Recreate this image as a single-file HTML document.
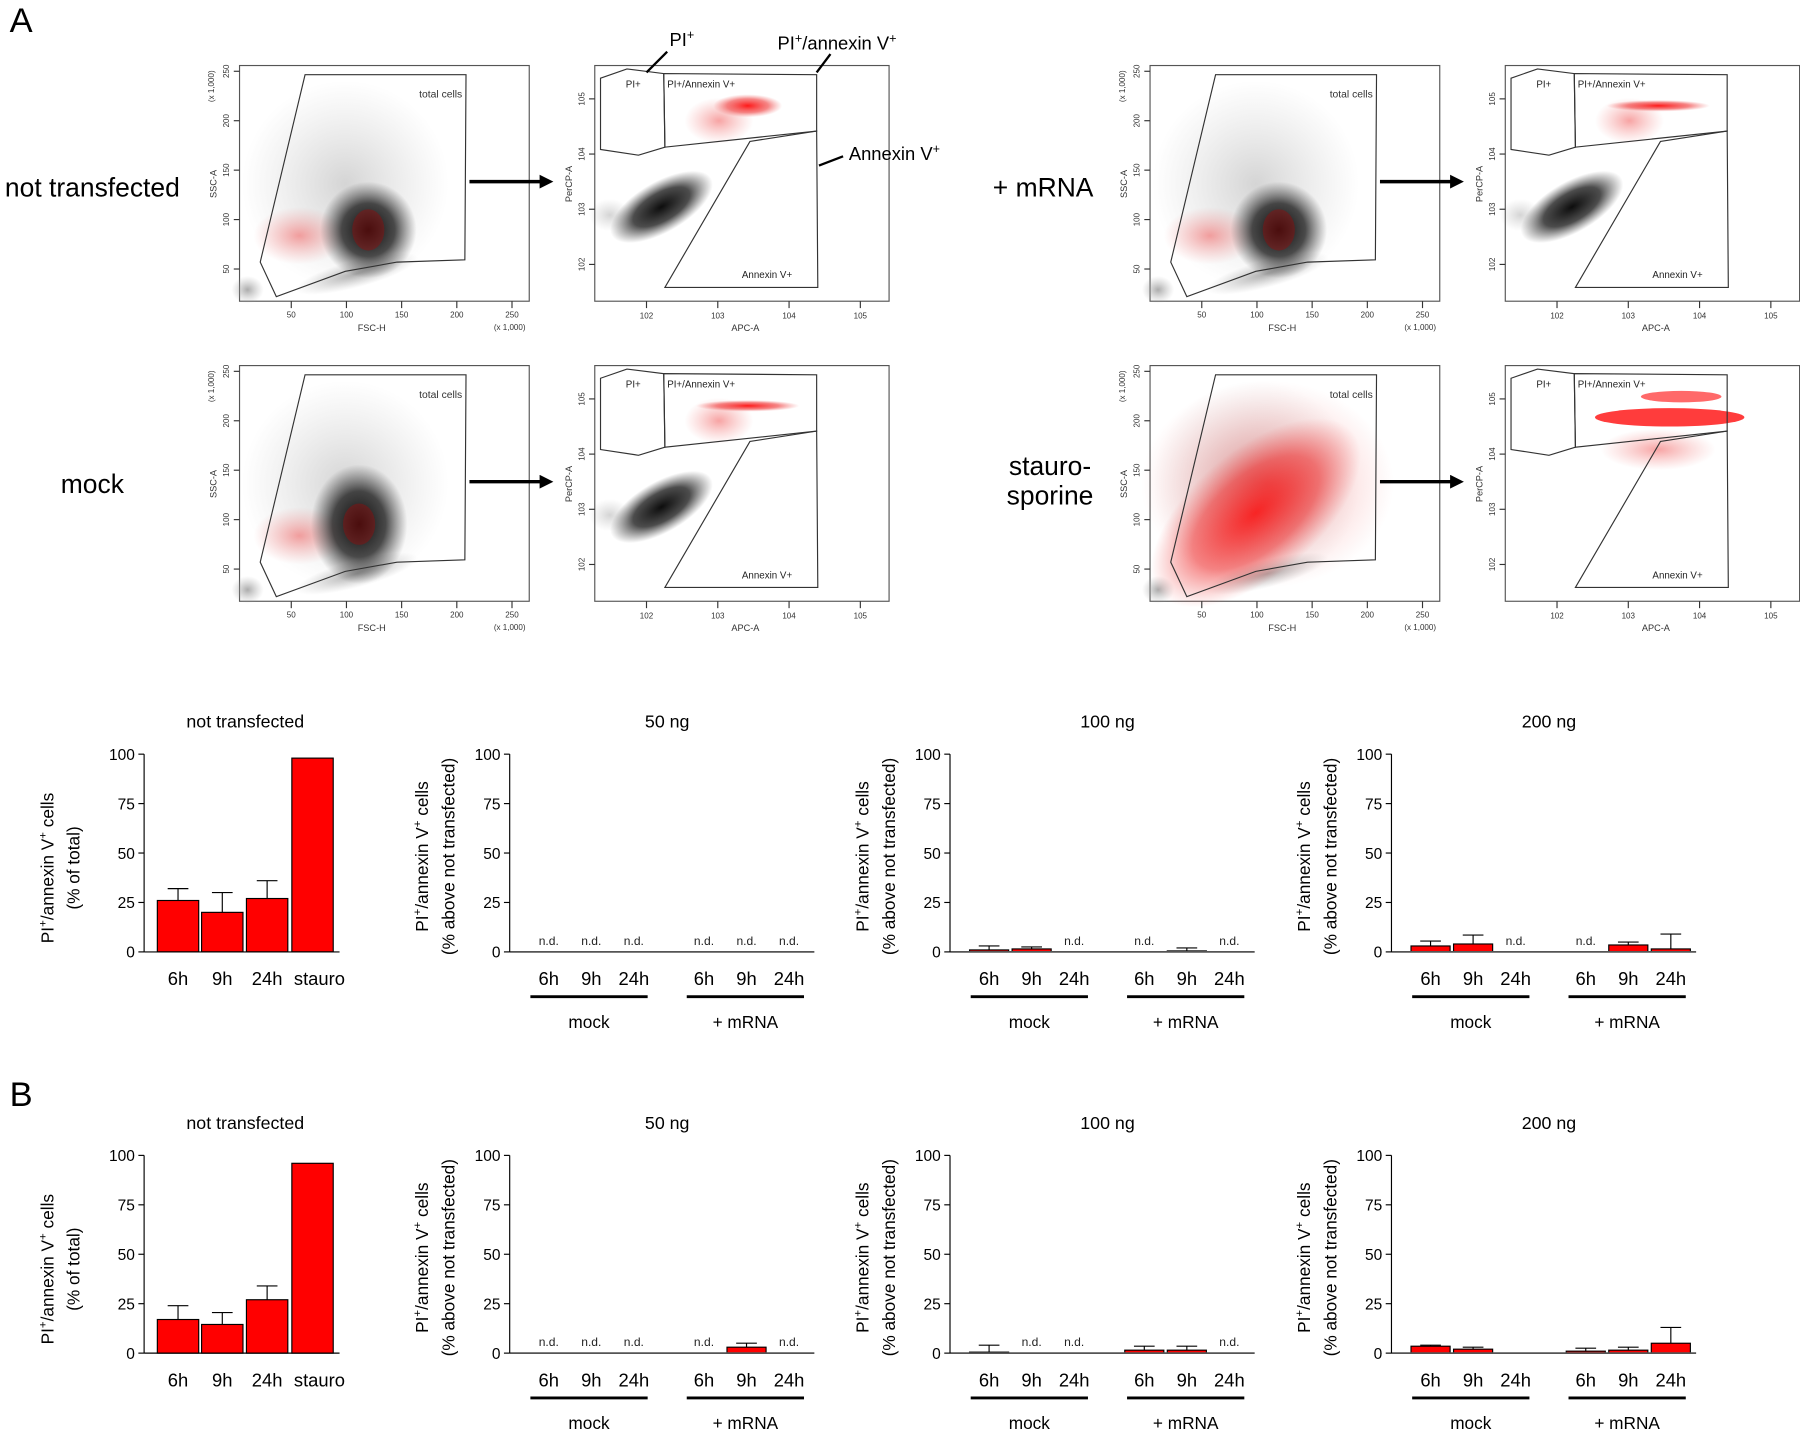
<!DOCTYPE html>
<html><head><meta charset="utf-8"><style>
html,body{margin:0;padding:0;background:#fff;}
svg{display:block;font-family:"Liberation Sans",Arial,sans-serif;}
</style></head><body>
<svg id="fig" width="1800" height="1429" viewBox="0 0 1565 1243" xmlns="http://www.w3.org/2000/svg">
<defs>
<radialGradient id="gBlack"><stop offset="0" stop-color="#000" stop-opacity="0.95"/><stop offset="0.55" stop-color="#111" stop-opacity="0.75"/><stop offset="1" stop-color="#333" stop-opacity="0"/></radialGradient>
<radialGradient id="gRed"><stop offset="0" stop-color="#f00" stop-opacity="0.9"/><stop offset="0.6" stop-color="#e22" stop-opacity="0.55"/><stop offset="1" stop-color="#e55" stop-opacity="0"/></radialGradient>
<radialGradient id="gRedL"><stop offset="0" stop-color="#e33" stop-opacity="0.45"/><stop offset="1" stop-color="#e66" stop-opacity="0"/></radialGradient>
<radialGradient id="gGrey"><stop offset="0" stop-color="#888" stop-opacity="0.7"/><stop offset="1" stop-color="#aaa" stop-opacity="0"/></radialGradient>
<radialGradient id="gSpk"><stop offset="0" stop-color="#555" stop-opacity="0.25"/><stop offset="1" stop-color="#777" stop-opacity="0"/></radialGradient>
<marker id="arr" markerWidth="4" markerHeight="4" refX="2" refY="2" orient="auto"><path d="M0,0 L4,2 L0,4 z" fill="#000"/></marker>
</defs>
<g id="flow"></g>
<g id="bars"></g>
</svg>
<script>
// ---------- Bar chart data ----------
const yTicks = [0, 25, 50, 75, 100];
const ntCategories = ["6h", "9h", "24h", "stauro"];
const grpCategories = ["6h", "9h", "24h", "6h", "9h", "24h"];
const groupLabels = ["mock", "+ mRNA"];
const chartTitles = ["not transfected", "50 ng", "100 ng", "200 ng"];
// Row A
const A_nt_values = [26, 20, 27, 98];
const A_nt_err = [32, 30, 36, null];
const A_50_values = [null, null, null, null, null, null];
const A_50_err = [null, null, null, null, null, null];
const A_100_values = [1, 1.5, null, null, 0.5, null];
const A_100_err = [3, 2.5, null, null, 2, null];
const A_200_values = [3, 4, null, null, 3.5, 1.5];
const A_200_err = [5.5, 8.5, null, null, 5, 9];
// Row B
const B_nt_values = [17, 14.5, 27, 96];
const B_nt_err = [24, 20.5, 34, null];
const B_50_values = [null, null, null, null, 3, null];
const B_50_err = [null, null, null, null, 5, null];
const B_100_values = [0.5, null, null, 1.5, 1.5, null];
const B_100_err = [4, null, null, 3.5, 3.5, null];
const B_200_values = [3.5, 2, 0, 1, 1.5, 5];
const B_200_err = [4, 3, null, 2.5, 3, 13];

const NS = "http://www.w3.org/2000/svg";
function mk(tag, attrs, parent, text) {
  const e = document.createElementNS(NS, tag);
  for (const k in attrs) e.setAttribute(k, attrs[k]);
  if (text !== undefined) e.textContent = text;
  parent.appendChild(e);
  return e;
}
const bars = document.getElementById('bars');
const flow = document.getElementById('flow');

let t = mk('text', {x: 8, y: 28, 'font-size': 30}, flow, 'A');


t = mk('text', {x: 8, y: 962, 'font-size': 30}, bars, 'B');



function ytitle(g, x, cy, line2) {
  const tt = mk('text', {transform: `translate(${x},${cy}) rotate(-90)`, 'text-anchor': 'middle', 'font-size': 15}, g);
  
  
  tt.innerHTML = 'PI<tspan dy="-6" font-size="10">+</tspan><tspan dy="6">/annexin V</tspan><tspan dy="-6" font-size="10">+</tspan><tspan dy="6"> cells</tspan>';
  const t2 = mk('text', {transform: `translate(${x + 23},${cy}) rotate(-90)`, 'text-anchor': 'middle', 'font-size': 15}, g, line2);
  
  
}

function yAxis(g, ax, y0, scale) {
  mk('line', {x1: ax, y1: y0, x2: ax, y2: scale(100), stroke: '#000', 'stroke-width': 1}, g);
  yTicks.forEach(v => {
    mk('line', {x1: ax - 5, y1: scale(v), x2: ax, y2: scale(v), stroke: '#000'}, g);
    const tl = mk('text', {x: ax - 8, y: scale(v) + 5, 'text-anchor': 'end', 'font-size': 13.5}, g, String(v));
    
    
  });
}

function drawBar(g, cx, w, v, err, scale, y0) {
  if (v === null) return;
  const r = mk('rect', {x: cx - w / 2, y: scale(v), width: w, height: y0 - scale(v), fill: '#ff0000', stroke: '#000', 'stroke-width': 1}, g);
  
  
  if (err !== null && err !== undefined) {
    mk('line', {x1: cx, y1: scale(v), x2: cx, y2: scale(err), stroke: '#000'}, g);
    mk('line', {x1: cx - 9, y1: scale(err), x2: cx + 9, y2: scale(err), stroke: '#000'}, g);
  }
}

function ntChart(dy, values, errs) {
  const g = mk('g', {}, bars);
  
  
  const y0 = 828 + dy, ax = 125;
  const scale = v => y0 - v * 1.72;
  const centers = [154.5, 193, 232, 271.5];
  const tt = mk('text', {x: 213, y: 633 + dy, 'text-anchor': 'middle', 'font-size': 15.5}, g, chartTitles[0]);
  
  
  ytitle(g, 46, 755 + dy, '(% of total)');
  values.forEach((v, i) => drawBar(g, centers[i], 36, v, errs[i], scale, y0));
  mk('line', {x1: ax, y1: y0, x2: 295, y2: y0, stroke: '#000'}, g);
  yAxis(g, ax, y0, scale);
  ntCategories.forEach((c, i) => {
    const l = mk('text', {x: centers[i] + (i === 3 ? 6 : 0), y: 857 + dy, 'text-anchor': 'middle', 'font-size': 16}, g, c);
    
    
  });
}

function grpChart(dx, dy, title, values, errs) {
  const g = mk('g', {}, bars);
  
  
  const y0 = 828 + dy, ax = 443 + dx;
  const scale = v => y0 - v * 1.72;
  const centers = [477, 514, 551, 612, 649, 686].map(c => c + dx);
  const tt = mk('text', {x: 580 + dx, y: 633 + dy, 'text-anchor': 'middle', 'font-size': 15.5}, g, title);
  
  
  ytitle(g, 372 + dx, 745 + dy, '(% above not transfected)');
  values.forEach((v, i) => {
    if (v === null) {
      const nd = mk('text', {x: centers[i], y: 822 + dy, 'text-anchor': 'middle', 'font-size': 10.5, fill: '#222'}, g, 'n.d.');
      
      
    } else drawBar(g, centers[i], 34, v, errs[i], scale, y0);
  });
  mk('line', {x1: ax, y1: y0, x2: 708 + dx, y2: y0, stroke: '#555', 'stroke-width': 1.5}, g);
  yAxis(g, ax, y0, scale);
  grpCategories.forEach((c, i) => {
    const l = mk('text', {x: centers[i], y: 857 + dy, 'text-anchor': 'middle', 'font-size': 16}, g, c);
    
    
  });
  [[461, 563], [597, 699]].forEach((p, i) => {
    const ln = mk('line', {x1: p[0] + dx, y1: 867 + dy, x2: p[1] + dx, y2: 867 + dy, stroke: '#000', 'stroke-width': 2.5}, g);
    
    
    const gl = mk('text', {x: (p[0] + p[1]) / 2 + dx, y: 894 + dy, 'text-anchor': 'middle', 'font-size': 15}, g, groupLabels[i]);
    
    
  });
}

ntChart(0, A_nt_values, A_nt_err);
grpChart(0, 0, chartTitles[1], A_50_values, A_50_err);
grpChart(383, 0, chartTitles[2], A_100_values, A_100_err);
grpChart(767, 0, chartTitles[3], A_200_values, A_200_err);
ntChart(349, B_nt_values, B_nt_err);
grpChart(0, 349, chartTitles[1], B_50_values, B_50_err);
grpChart(383, 349, chartTitles[2], B_100_values, B_100_err);
grpChart(767, 349, chartTitles[3], B_200_values, B_200_err);

// ---------- Flow cytometry panels ----------
function pts(arr, dx, dy) { return arr.map(p => (p[0] + dx) + ',' + (p[1] + dy)).join(' '); }
function scatterPanel(dx, dy, kind) {
  const g = mk('g', {}, flow);
  
  
  const L = 208 + dx, T = 57 + dy, R = 460 + dx, B = 262 + dy;
  mk('rect', {x: L, y: T, width: R - L, height: B - T, fill: '#fff', stroke: '#555', 'stroke-width': 1}, g);
  mk('ellipse', {cx: 300 + dx, cy: 160 + dy, rx: 90, ry: 90, fill: 'url(#gSpk)'}, g);
  mk('ellipse', {cx: 310 + dx, cy: 238 + dy, rx: 55, ry: 12, fill: 'url(#gGrey)', transform: `rotate(-15 ${310 + dx} ${238 + dy})`}, g);
  mk('ellipse', {cx: 215 + dx, cy: 252 + dy, rx: 14, ry: 12, fill: 'url(#gGrey)'}, g);
  if (kind === 'stauro') {
    mk('ellipse', {cx: 300 + dx, cy: 185 + dy, rx: 110, ry: 55, fill: 'url(#gRed)', transform: `rotate(-40 ${300 + dx} ${185 + dy})`}, g);
    mk('ellipse', {cx: 310 + dx, cy: 160 + dy, rx: 110, ry: 90, fill: 'url(#gRedL)'}, g);
  } else {
    mk('ellipse', {cx: 260 + dx, cy: 205 + dy, rx: 40, ry: 25, fill: 'url(#gRedL)'}, g);
    const cx = (kind === 'mock' ? 312 : 320) + dx, cy = (kind === 'mock' ? 195 : 200) + dy;
    mk('ellipse', {cx: cx, cy: cy, rx: 42, ry: kind === 'mock' ? 52 : 42, fill: 'url(#gBlack)'}, g);
    mk('ellipse', {cx: cx, cy: cy, rx: 14, ry: 18, fill: '#8a1010', opacity: 0.5}, g);
  }
  mk('polygon', {points: pts([[226, 228], [265, 65], [405, 65], [404, 226], [345, 228], [300, 236], [240, 258]], dx, dy), fill: 'none', stroke: '#333', 'stroke-width': 1}, g);
  mk('text', {x: 383 + dx, y: 85 + dy, 'text-anchor': 'middle', 'font-size': 9, fill: '#333'}, g, 'total cells');
  [50, 100, 150, 200, 250].forEach((v, i) => {
    const x = L + 45 + i * 48;
    mk('line', {x1: x, y1: B, x2: x, y2: B + 6, stroke: '#333'}, g);
    mk('text', {x: x, y: B + 14, 'text-anchor': 'middle', 'font-size': 7, fill: '#333'}, g, String(v));
    const y = B - 28 - i * 43;
    mk('line', {x1: L - 5, y1: y, x2: L, y2: y, stroke: '#333'}, g);
    mk('text', {transform: `translate(${L - 9},${y}) rotate(-90)`, 'text-anchor': 'middle', 'font-size': 7, fill: '#333'}, g, String(v));
  });
  mk('text', {x: 323 + dx, y: B + 26, 'text-anchor': 'middle', 'font-size': 8, fill: '#333'}, g, 'FSC-H');
  mk('text', {x: 443 + dx, y: B + 25, 'text-anchor': 'middle', 'font-size': 7, fill: '#333'}, g, '(x 1,000)');
  mk('text', {transform: `translate(${L - 20},${160 + dy}) rotate(-90)`, 'text-anchor': 'middle', 'font-size': 8, fill: '#333'}, g, 'SSC-A');
  mk('text', {transform: `translate(${L - 22},${75 + dy}) rotate(-90)`, 'text-anchor': 'middle', 'font-size': 7, fill: '#333'}, g, '(x 1,000)');
}
function annexinPanel(dx, dy, kind) {
  const g = mk('g', {}, flow);
  
  
  const L = 517 + dx, T = 57 + dy, R = 773 + dx, B = 262 + dy;
  mk('rect', {x: L, y: T, width: R - L, height: B - T, fill: '#fff', stroke: '#555', 'stroke-width': 1}, g);
  if (kind === 'stauro') {
    mk('ellipse', {cx: 660 + dx, cy: 102 + dy, rx: 65, ry: 8, fill: '#ff1a1a', opacity: 0.85}, g);
    mk('ellipse', {cx: 670 + dx, cy: 84 + dy, rx: 35, ry: 5, fill: '#ff2a2a', opacity: 0.7}, g);
    mk('ellipse', {cx: 650 + dx, cy: 130 + dy, rx: 50, ry: 18, fill: 'url(#gRedL)'}, g);
  } else {
    mk('ellipse', {cx: 575 + dx, cy: 180 + dy, rx: 50, ry: 22, fill: 'url(#gBlack)', transform: `rotate(-30 ${575 + dx} ${180 + dy})`}, g);
    mk('ellipse', {cx: 530 + dx, cy: 187 + dy, rx: 18, ry: 14, fill: 'url(#gSpk)'}, g);
    const sx = kind === 'plain' ? 30 : 45, sy = kind === 'plain' ? 10 : 5;
    mk('ellipse', {cx: 650 + dx, cy: 92 + dy, rx: sx, ry: sy, fill: 'url(#gRed)'}, g);
    mk('ellipse', {cx: 625 + dx, cy: 105 + dy, rx: 30, ry: 20, fill: 'url(#gRedL)'}, g);
  }
  mk('polygon', {points: pts([[522, 68], [545, 60], [577, 64], [578, 128], [555, 135], [522, 130]], dx, dy), fill: 'none', stroke: '#333'}, g);
  mk('polygon', {points: pts([[577, 64], [710, 65], [710, 114], [578, 128]], dx, dy), fill: 'none', stroke: '#333'}, g);
  mk('polygon', {points: pts([[652, 123], [710, 114], [711, 250], [578, 250]], dx, dy), fill: 'none', stroke: '#333'}, g);
  mk('text', {x: 544 + dx, y: 76 + dy, 'font-size': 8.5, fill: '#222'}, g, 'PI+');
  mk('text', {x: 580 + dx, y: 76 + dy, 'font-size': 8.5, fill: '#222'}, g, 'PI+/Annexin V+');
  mk('text', {x: 645 + dx, y: 242 + dy, 'font-size': 8.5, fill: '#222'}, g, 'Annexin V+');
  ['2', '3', '4', '5'].forEach((e, i) => {
    const x = L + 45 + i * 62;
    mk('line', {x1: x, y1: B, x2: x, y2: B + 6, stroke: '#333'}, g);
    mk('text', {x: x, y: B + 15, 'text-anchor': 'middle', 'font-size': 7, fill: '#333'}, g, '10' + e);
    const y = B - 32 - i * 48;
    mk('line', {x1: L - 5, y1: y, x2: L, y2: y, stroke: '#333'}, g);
    mk('text', {transform: `translate(${L - 9},${y}) rotate(-90)`, 'text-anchor': 'middle', 'font-size': 7, fill: '#333'}, g, '10' + e);
  });
  mk('text', {x: 648 + dx, y: B + 26, 'text-anchor': 'middle', 'font-size': 8, fill: '#333'}, g, 'APC-A');
  mk('text', {transform: `translate(${L - 20},${160 + dy}) rotate(-90)`, 'text-anchor': 'middle', 'font-size': 8, fill: '#333'}, g, 'PerCP-A');
}
function arrow(x1, x2, y) {
  const a = mk('line', {x1: x1, y1: y, x2: x2 - 12, y2: y, stroke: '#000', 'stroke-width': 3, 'marker-end': 'url(#arr)'}, flow);
  
  
}
const rows = [[0, 0, 'plain'], [0, 261, 'mock'], [792, 0, 'mrna'], [792, 261, 'stauro']];
rows.forEach(r => { scatterPanel(r[0], r[1], r[2]); annexinPanel(r[0], r[1], r[2]); arrow(408 + r[0], 487 + r[0], 158 + r[1]); });

function lbl(x, y, s, name) {
  const e = mk('text', {x: x, y: y, 'font-size': 23, 'text-anchor': 'middle'}, flow, s);
  
  
}
lbl(80, 171, 'not transfected', 'row-label-not-transfected');
lbl(80, 429, 'mock', 'row-label-mock');
lbl(907, 171, '+ mRNA', 'row-label-mrna');
lbl(913, 413, 'stauro-', 'row-label-staurosporine');
lbl(913, 439, 'sporine', 'row-label-staurosporine-2');
function anno(x, y, html, name) {
  const e = mk('text', {x: x, y: y, 'font-size': 16}, flow);
  e.innerHTML = html;
  
  
}
anno(582, 40, 'PI<tspan dy="-6" font-size="11">+</tspan>', 'annotation-pi');
anno(676, 43, 'PI<tspan dy="-6" font-size="11">+</tspan><tspan dy="6">/annexin V</tspan><tspan dy="-6" font-size="11">+</tspan>', 'annotation-pi-annexin');
anno(738, 139, 'Annexin V<tspan dy="-6" font-size="11">+</tspan>', 'annotation-annexin');
mk('line', {x1: 580, y1: 45, x2: 562, y2: 63, stroke: '#000', 'stroke-width': 2}, flow);
mk('line', {x1: 722, y1: 47, x2: 710, y2: 63, stroke: '#000', 'stroke-width': 2}, flow);
mk('line', {x1: 733, y1: 136, x2: 712, y2: 144, stroke: '#000', 'stroke-width': 2}, flow);
</script>
</body></html>
